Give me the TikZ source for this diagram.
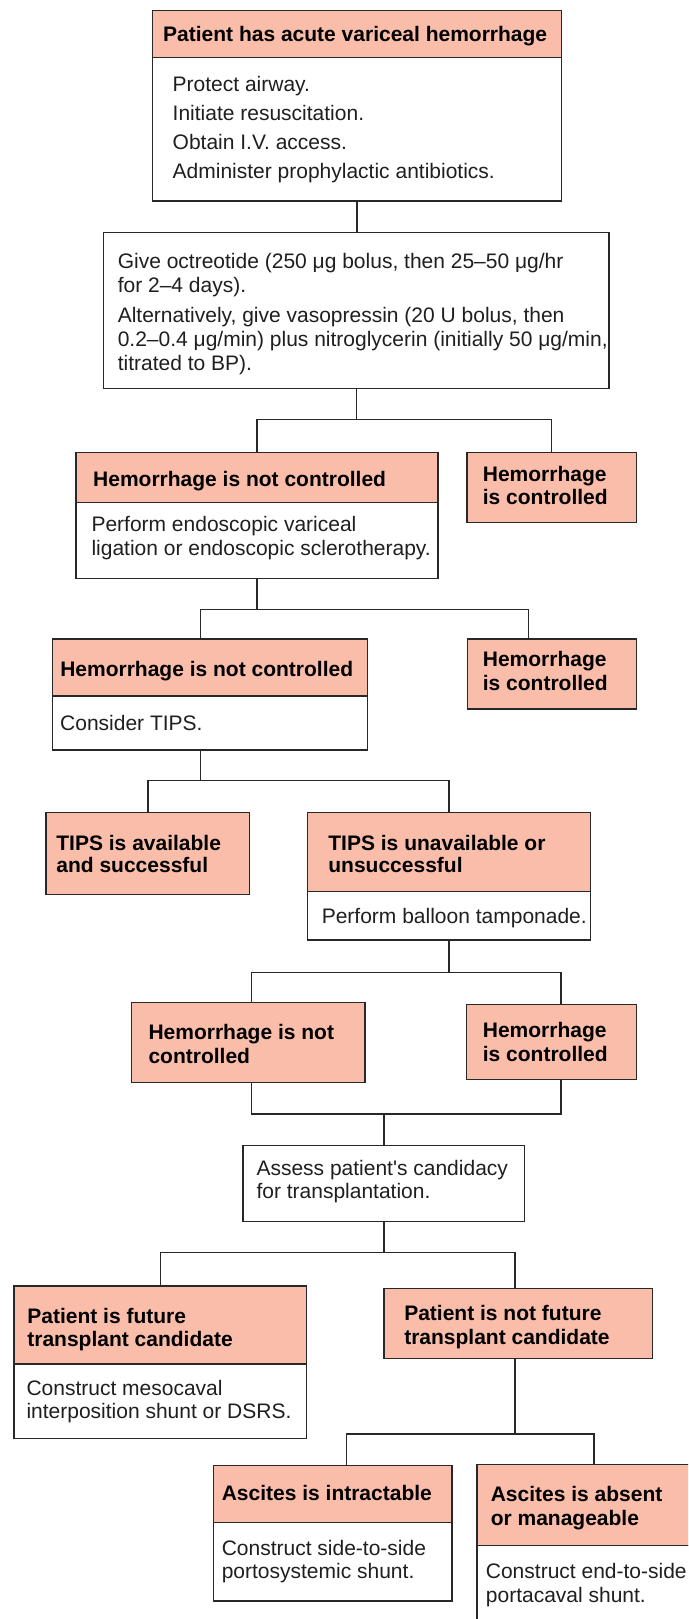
\documentclass[tikz,border=0pt]{standalone}
\usepackage{fontspec}
\setmainfont{Liberation Sans}[Ligatures=TeXOff]
\usetikzlibrary{fit,calc}
\definecolor{salmon}{RGB}{249,189,169}
\definecolor{ink}{RGB}{40,40,40}
\tikzset{
  frame/.style={draw=ink, line width=1.3pt, inner sep=0pt},
  hdr/.style={frame, fill=salmon},
  bodybox/.style={frame, fill=white},
  wire/.style={draw=ink, line width=1.2pt},
  txt/.style={anchor=base west, inner sep=0pt, text=black!88, font=\fontsize{21}{24}\selectfont},
  btxt/.style={anchor=base west, inner sep=0pt, text=black, font=\fontsize{21}{24}\selectfont\bfseries},
}
\begin{document}
\begin{tikzpicture}[x=1pt,y=-1pt]
\useasboundingbox (0,0) rectangle (688,1619);
\clip (0,0) rectangle (688,1619);

% ---- boxes ----
\node[bodybox, fit={(152.7,57.3) (561.2,201)}] (b1b) {};
\node[hdr, fit={(152.7,10.7) (561.2,57.3)}] (b1h) {};
\node[bodybox, fit={(103.6,232.3) (609,388.7)}] (b2) {};

\node[bodybox, fit={(75.9,502.7) (437.9,578.3)}] (b3b) {};
\node[hdr, fit={(75.9,452.7) (437.9,502.7)}] (b3h) {};
\node[hdr, fit={(466.9,452.7) (636.2,522.3)}] (b4) {};

\node[bodybox, fit={(52.7,696) (367.7,750)}] (b5b) {};
\node[hdr, fit={(52.7,639) (367.7,696)}] (b5h) {};
\node[hdr, fit={(467.3,639) (636.2,709)}] (b6) {};

\node[hdr, fit={(46.1,812.3) (249.7,894.7)}] (b7) {};
\node[bodybox, fit={(307.2,891.7) (590.6,940)}] (b8b) {};
\node[hdr, fit={(307.2,812.3) (590.6,891.7)}] (b8h) {};

\node[hdr, fit={(131.2,1002.3) (365.1,1082.7)}] (b9) {};
\node[hdr, fit={(466.4,1004.3) (636.2,1079.3)}] (b10) {};

\node[bodybox, fit={(243.1,1145.7) (524.8,1221.7)}] (b11) {};

\node[bodybox, fit={(14,1364) (306.3,1438.7)}] (b12b) {};
\node[hdr, fit={(14,1286) (306.3,1364)}] (b12h) {};
\node[hdr, fit={(384,1288.7) (652.5,1358.7)}] (b13) {};

\node[bodybox, fit={(213.3,1522.3) (452,1601)}] (b14b) {};
\node[hdr, fit={(213.3,1465.7) (452,1522.3)}] (b14h) {};
\node[bodybox, fit={(477,1545.7) (700,1640)}] (b15b) {};
\node[hdr, fit={(477,1464.3) (700,1545.7)}] (b15h) {};

% ---- texts ----
\node[btxt] (t1h) at (163,41.7) {Patient has acute variceal hemorrhage};
\node[txt] (t1a) at (172.5,91.7) {Protect airway.};
\node[txt] (t1b) at (172.5,120) {Initiate resuscitation.};
\node[txt] (t1c) at (172.5,149) {Obtain I.V. access.};
\node[txt] (t1d) at (172.5,178) {Administer prophylactic antibiotics.};

\node[txt] (t2a) at (117.6,268) {Give octreotide (250 μg bolus, then 25–50 μg/hr};
\node[txt] (t2b) at (117.6,292) {for 2–4 days).};
\node[txt] (t2c) at (117.6,322) {Alternatively, give vasopressin (20 U bolus, then};
\node[txt] (t2d) at (117.6,346) {0.2–0.4 μg/min) plus nitroglycerin (initially 50 μg/min,};
\node[txt] (t2e) at (117.6,370) {titrated to BP).};

\node[btxt] (t3h) at (93,486.7) {Hemorrhage is not controlled};
\node[txt] (t3a) at (91.3,531.7) {Perform endoscopic variceal};
\node[txt] (t3b) at (91.3,555) {ligation or endoscopic sclerotherapy.};
\node[btxt] (t4a) at (482.7,481.7) {Hemorrhage};
\node[btxt] (t4b) at (482.7,504.3) {is controlled};

\node[btxt] (t5h) at (60.1,676.7) {Hemorrhage is not controlled};
\node[txt] (t5a) at (60,730) {Consider TIPS.};
\node[btxt] (t6a) at (482.7,666.7) {Hemorrhage};
\node[btxt] (t6b) at (482.7,690) {is controlled};

\node[btxt] (t7a) at (56.2,850) {TIPS is available};
\node[btxt] (t7b) at (56.2,872.7) {and successful};
\node[btxt] (t8a) at (328.2,850) {TIPS is unavailable or};
\node[btxt] (t8b) at (328.2,872.7) {unsuccessful};
\node[txt] (t8c) at (321.6,923.3) {Perform balloon tamponade.};

\node[btxt] (t9a) at (148.3,1039.3) {Hemorrhage is not};
\node[btxt] (t9b) at (148.3,1063.3) {controlled};
\node[btxt] (t10a) at (482.7,1037.3) {Hemorrhage};
\node[btxt] (t10b) at (482.7,1061) {is controlled};

\node[txt] (t11a) at (256.3,1175) {Assess patient's candidacy};
\node[txt] (t11b) at (256.3,1198.3) {for transplantation.};

\node[btxt] (t12a) at (27.2,1323.3) {Patient is future};
\node[btxt] (t12b) at (27.2,1346.7) {transplant candidate};
\node[txt] (t12c) at (26.3,1395) {Construct mesocaval};
\node[txt] (t12d) at (26.3,1418.3) {interposition shunt or DSRS.};
\node[btxt] (t13a) at (404.1,1320) {Patient is not future};
\node[btxt] (t13b) at (404.1,1344) {transplant candidate};

\node[btxt] (t14h) at (221.6,1500.7) {Ascites is intractable};
\node[txt] (t14a) at (221.6,1555) {Construct side-to-side};
\node[txt] (t14b) at (221.6,1578.3) {portosystemic shunt.};
\node[btxt] (t15a) at (490.6,1501) {Ascites is absent};
\node[btxt] (t15b) at (490.6,1525) {or manageable};
\node[txt] (t15c) at (485.7,1578.3) {Construct end-to-side};
\node[txt] (t15d) at (485.7,1602.7) {portacaval shunt.};

% ---- connectors ----
\draw[wire] (b1b.south) -- (b1b.south |- b2.north);

\coordinate (j1) at (0,419.3);
\draw[wire] (b2.south) -- (b2.south |- j1);
\draw[wire] (b3h.north) -- (b3h.north |- j1) -- (b4.north |- j1) -- (b4.north);

\coordinate (j2) at (0,609.3);
\coordinate (b5in) at ($(b5h.north west)+(148.7,0)$);
\coordinate (b6in) at ($(b6.north west)+(61.9,0)$);
\draw[wire] (b3b.south) -- (b3b.south |- j2);
\draw[wire] (b5in) -- (b5in |- j2) -- (b6in |- j2) -- (b6in);

\coordinate (j3) at (0,780.3);
\coordinate (b5out) at ($(b5b.south west)+(148.7,0)$);
\draw[wire] (b5out) -- (b5out |- j3);
\draw[wire] (b7.north) -- (b7.north |- j3) -- (b8h.north |- j3) -- (b8h.north);

\coordinate (j4) at (0,972.3);
\coordinate (b9in) at ($(b9.north west)+(120.7,0)$);
\coordinate (b10in) at ($(b10.north west)+(95.3,0)$);
\draw[wire] (b8b.south) -- (b8b.south |- j4);
\draw[wire] (b9in) -- (b9in |- j4) -- (b10in |- j4) -- (b10in);

\coordinate (j5) at (0,1114);
\coordinate (b9out) at ($(b9.south west)+(120.7,0)$);
\coordinate (b10out) at ($(b10.south west)+(95.3,0)$);
\draw[wire] (b9out) -- (b9out |- j5) -- (b10out |- j5) -- (b10out);
\draw[wire] (b11.north |- j5) -- (b11.north);

\coordinate (j6) at (0,1252.7);
\coordinate (b13in) at ($(b13.north west)+(131.6,0)$);
\draw[wire] (b11.south) -- (b11.south |- j6);
\draw[wire] (b12h.north) -- (b12h.north |- j6) -- (b13in |- j6) -- (b13in);

\coordinate (j7) at (0,1434);
\coordinate (b13out) at ($(b13.south west)+(131.6,0)$);
\coordinate (b14in) at ($(b14h.north west)+(134.2,0)$);
\coordinate (b15in) at ($(b15h.north west)+(117.6,0)$);
\draw[wire] (b13out) -- (b13out |- j7);
\draw[wire] (b14in) -- (b14in |- j7) -- (b15in |- j7) -- (b15in);
\end{tikzpicture}
\end{document}
